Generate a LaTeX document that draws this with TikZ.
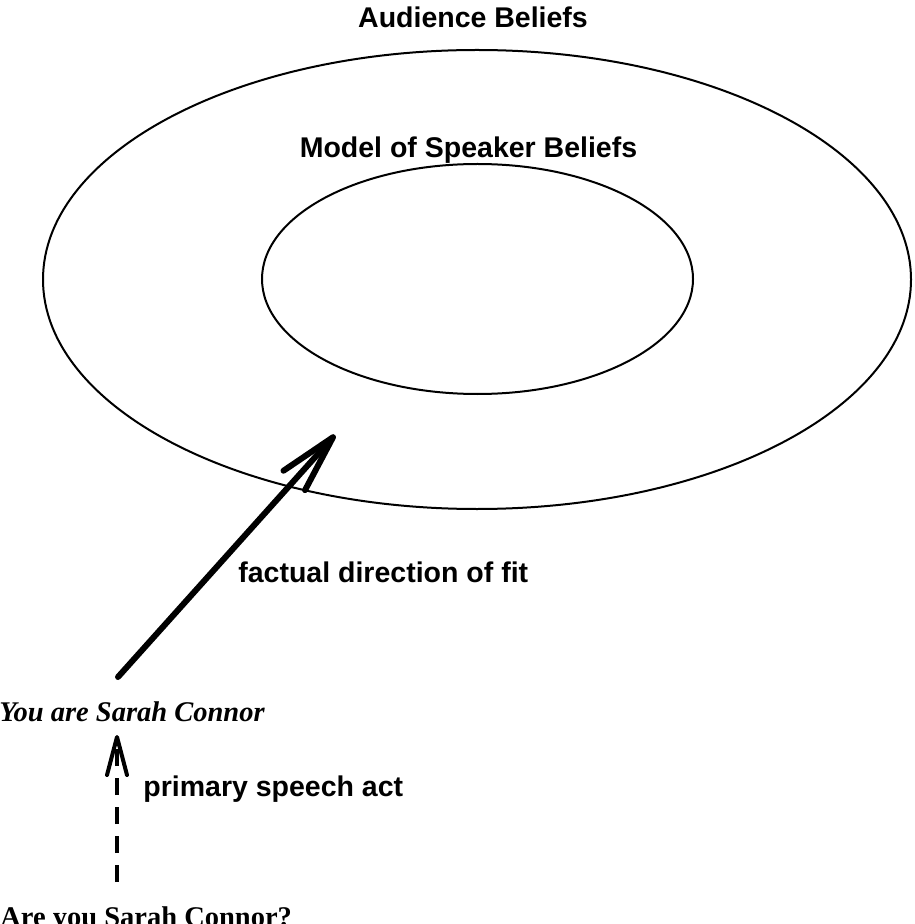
\documentclass[tikz,border=0pt]{standalone}
\usepackage{fontspec}
\setmainfont{Liberation Serif}
\setsansfont{Liberation Sans}
\usetikzlibrary{shapes.geometric,arrows.meta}
\tikzset{
  ring/.style={ellipse, draw, line width=1pt, inner sep=0pt},
  sanslabel/.style={font=\fontsize{14.25pt}{17pt}\selectfont\sffamily\bfseries, inner sep=0pt},
  seriflabel/.style={inner sep=0pt},
  fitarrow/.style={line width=3pt, line cap=round,
    -{Straight Barb[length=29pt, width=14.5pt, round]}},
  actarrow/.style={line width=2pt, dash pattern=on 8.5pt off 6pt,
    -{Straight Barb[length=19pt, width=10pt, round]}}
}
\begin{document}
\begin{tikzpicture}[x=0.5pt,y=-0.5pt]
  \useasboundingbox (0,0) rectangle (914,924);
  \node[ring, minimum width=434pt, minimum height=229.5pt] (outer) at (477,279.5) {};
  \node[ring, minimum width=215.5pt, minimum height=115pt] (inner) at (477.5,279) {};
  \node[sanslabel, anchor=base] (aud) at (473,28) {Audience Beliefs};
  \node[sanslabel, anchor=base] (model) at (468.5,158) {Model of Speaker Beliefs};
  \node[sanslabel, anchor=base west] (fitlbl) at (238,582) {factual direction of fit};
  \node[sanslabel, anchor=base west] (actlbl) at (143,796) {primary speech act};
  \node[seriflabel, anchor=base west, font=\fontsize{14.25pt}{17pt}\selectfont\bfseries\itshape] (you) at (-1,721) {You are Sarah Connor};
  \node[seriflabel, anchor=base west, font=\fontsize{14.25pt}{17pt}\selectfont\bfseries] (are) at (0,926) {Are you Sarah Connor?};
  \coordinate (fittail) at (118,677);
  \coordinate (fittip) at (335,435);
  \coordinate (acttail) at (117,882);
  \coordinate (acttip) at (117,735);
  \draw[fitarrow] (fittail) -- (fittip);
  \draw[actarrow] (acttail) -- (acttip);
\end{tikzpicture}
\end{document}
